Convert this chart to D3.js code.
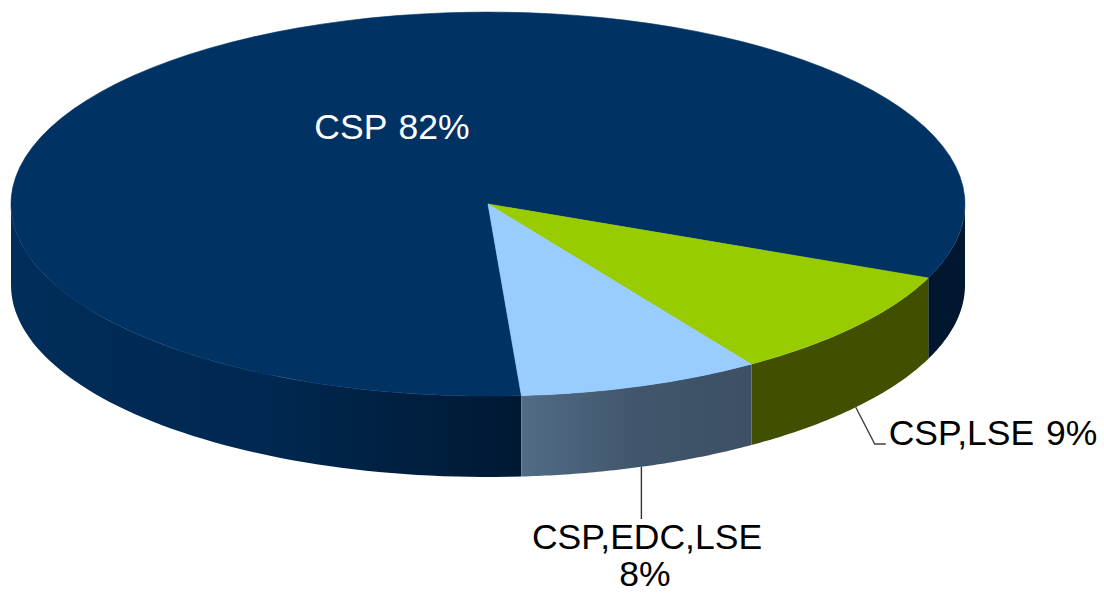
<!DOCTYPE html>
<html>
<head>
<meta charset="utf-8">
<script src="https://cdn.jsdelivr.net/npm/d3@7"></script>
<style>
  html, body { margin: 0; padding: 0; background: #fff; overflow: hidden; }
  text { font-family: "Liberation Sans", Arial, sans-serif; font-size: 35.5px; word-spacing: 2px; }
</style>
</head>
<body>
<div id="chart"></div>
<script>
// the data
var categories = ["CSP", "CSP,LSE", "CSP,EDC,LSE"];
var shares = [82.4, 9.4, 8.2];
var shareLabels = ["82%", "9%", "8%"];

// set the dimensions of the graph
var width = 1104,
    height = 594;

// pie geometry
var cx = 488, cy = 204,
    rx = 477, ry = 192,
    depth = 81;

var topColors = ["#003264", "#99cc00", "#99ccff"];

var svg = d3.select("#chart").append("svg")
    .attr("width", width)
    .attr("height", height)
    .style("display", "block");

// side walls are shaded left to right
var wallStops = [
  [["0", "#002d5a"], ["0.5", "#002850"], ["0.95", "#001a36"], ["1", "#00172f"]],
  [["0", "#404f00"], ["1", "#404f00"]],
  [["0", "#516c85"], ["0.5", "#41566c"], ["1", "#3d5064"]]
];
var defs = svg.append("defs");
var wallX = [[cx - rx, cx + rx * 0.07], [cx, cx + rx], [cx + rx * 0.07, cx + rx * 0.55]];

wallStops.forEach(function(stops, i) {
  var grad = defs.append("linearGradient")
      .attr("id", "wall" + i)
      .attr("gradientUnits", "userSpaceOnUse")
      .attr("x1", wallX[i][0]).attr("x2", wallX[i][1])
      .attr("y1", 0).attr("y2", 0);
  stops.forEach(function(s) {
    grad.append("stop").attr("offset", s[0]).attr("stop-color", s[1]);
  });
});

// first slice starts just right of straight down and runs clockwise
var pie = d3.pie()
    .sort(null)
    .startAngle(176 * Math.PI / 180)
    .endAngle((176 + 360) * Math.PI / 180);

var slices = pie(shares);

function edgeX(a) { return cx + rx * Math.sin(a); }
function edgeY(a) { return cy - ry * Math.cos(a); }

// path of the visible wall between two angles
function wallPath(a0, a1) {
  var n = 60;
  var angles = d3.range(n + 1).map(function(k) { return a0 + (a1 - a0) * k / n; });
  var upper = angles.map(function(a) { return [edgeX(a), edgeY(a)]; });
  var lower = angles.slice().reverse().map(function(a) { return [edgeX(a), edgeY(a) + depth]; });
  return d3.line()(upper.concat(lower)) + "Z";
}

// only the front half of the wall can be seen (90deg to 270deg, every turn)
var walls = svg.append("g");
slices.forEach(function(d, i) {
  [0, 1].forEach(function(turn) {
    var lo = Math.max(d.startAngle, Math.PI / 2 + turn * 2 * Math.PI);
    var hi = Math.min(d.endAngle, 3 * Math.PI / 2 + turn * 2 * Math.PI);
    if (hi > lo) {
      walls.append("path")
          .attr("d", wallPath(lo, hi))
          .attr("fill", "url(#wall" + i + ")");
    }
  });
});

// top face, a unit arc squashed into the ellipse
var arc = d3.arc().innerRadius(0).outerRadius(1);

svg.append("g")
    .attr("transform", "translate(" + cx + "," + cy + ") scale(" + rx + "," + ry + ")")
  .selectAll("path")
    .data(slices)
  .enter().append("path")
    .attr("d", arc)
    .attr("fill", function(d, i) { return topColors[i]; })
    // thin stroke hides the white seam against the walls
    .attr("stroke", function(d, i) { return topColors[i]; })
    .attr("stroke-width", 0.6)
    .attr("vector-effect", "non-scaling-stroke");

// leader lines start from the middle of the slice on the bottom edge
function midAngle(d) { return (d.startAngle + d.endAngle) / 2; }

var greenMid = midAngle(slices[1]),
    blueMid = midAngle(slices[2]);

svg.append("path")
    .attr("d", d3.line()([
      [edgeX(greenMid), edgeY(greenMid) + depth],
      [edgeX(greenMid) + 19, 444],
      [edgeX(greenMid) + 30, 444]
    ]))
    .attr("fill", "none")
    .attr("stroke", "#404040")
    .attr("stroke-width", 1.4);

svg.append("line")
    .attr("x1", edgeX(blueMid)).attr("x2", edgeX(blueMid))
    .attr("y1", edgeY(blueMid) + depth).attr("y2", 519)
    .attr("stroke", "#303030")
    .attr("stroke-width", 1.4);

// labels
svg.append("text")
    .attr("x", 392).attr("y", 139)
    .attr("text-anchor", "middle")
    .attr("fill", "#fff")
    .text(categories[0] + " " + shareLabels[0]);

svg.append("text")
    .attr("x", 993).attr("y", 445)
    .attr("text-anchor", "middle")
    .attr("fill", "#000")
    .text(categories[1] + " " + shareLabels[1]);

svg.append("text")
    .attr("x", 647).attr("y", 549)
    .attr("text-anchor", "middle")
    .attr("fill", "#000")
    .text(categories[2]);

svg.append("text")
    .attr("x", 645).attr("y", 586)
    .attr("text-anchor", "middle")
    .attr("fill", "#000")
    .text(shareLabels[2]);
</script>
</body>
</html>
